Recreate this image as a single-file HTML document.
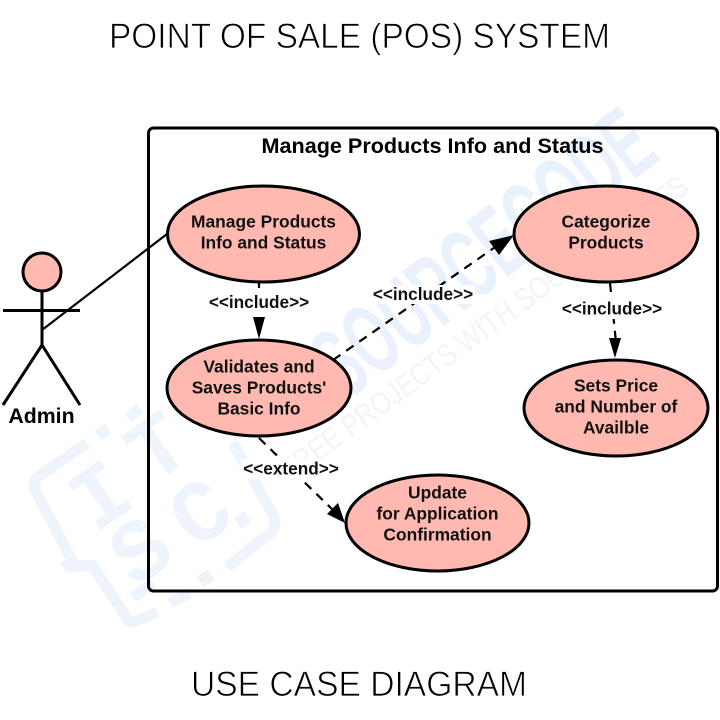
<!DOCTYPE html>
<html><head><meta charset="utf-8"><style>
html,body{margin:0;padding:0;background:#fff}
svg{display:block}
text{font-family:"Liberation Sans",sans-serif}
.n{font-weight:700;font-size:17.4px;text-anchor:middle;fill:#111}
.l{font-weight:700;font-size:17.2px;text-anchor:middle;fill:#111}
.t{font-size:35px;fill:#000;stroke:#fff;stroke-width:.8px}
.e{fill:#ffb9b1;stroke:#000;stroke-width:3}
.d{stroke:#000;stroke-width:2.2;fill:none;stroke-dasharray:9 7}
.w{font-family:"Liberation Mono",monospace;font-weight:700;font-size:88px;fill:#edf4fc;text-anchor:middle}
</style></head><body>
<svg width="720" height="720" viewBox="0 0 720 720" xmlns="http://www.w3.org/2000/svg">
<rect width="720" height="720" fill="#fff"/>
<!-- watermark logo -->
<g fill="none" stroke="#edf4fc" stroke-width="11" stroke-linejoin="round" stroke-linecap="butt">
<path d="M87 443L40 475Q30 482 36 492L73 562L63 568M68 567L92 565L127 618Q131 625 138 620L157 612"/>
<path d="M227 567L268 535Q279 527 273 515L233 443"/>
<path d="M128 418L140 408M133 597L153 583M170 603L190 593"/>
</g>
<g fill="#edf4fc">
<rect x="97" y="426" width="12" height="12" transform="rotate(-35 103 432)"/>
<rect x="236" y="514" width="13" height="13" transform="rotate(-35 242 520)"/>
<rect x="199" y="572" width="13" height="13" transform="rotate(-35 205 578)"/>
</g>
<text class="w" transform="translate(100 495) rotate(-35)" y="29">I</text>
<text class="w" transform="translate(157 447) rotate(-35)" y="29">T</text>
<text class="w" transform="translate(140 550) rotate(-35)" y="29">S</text>
<text class="w" transform="translate(200 512) rotate(-35)" y="29">C</text>
<text transform="translate(345 402) rotate(-37.5)" font-size="100" font-weight="700" fill="#e9f2fc" textLength="400" lengthAdjust="spacingAndGlyphs">SOURCECODE</text>
<text transform="translate(290 482) rotate(-36)" font-size="31" fill="#f0f4fa" textLength="495" lengthAdjust="spacingAndGlyphs">FREE PROJECTS WITH SOURCE CODES</text>

<!-- titles -->
<text class="t" x="109" y="48" textLength="501" lengthAdjust="spacingAndGlyphs">POINT OF SALE (POS) SYSTEM</text>
<text class="t" x="191" y="696" textLength="336" lengthAdjust="spacingAndGlyphs">USE CASE DIAGRAM</text>

<!-- boundary -->
<rect x="148.5" y="128" width="569" height="463" rx="5" fill="none" stroke="#000" stroke-width="3"/>
<text x="432.5" y="153" font-size="21.5" font-weight="700" text-anchor="middle" fill="#000" textLength="342" lengthAdjust="spacingAndGlyphs">Manage Products Info and Status</text>

<!-- actor -->
<g stroke="#000" stroke-width="3" fill="none">
<circle cx="42" cy="272" r="19" fill="#ffb9b1"/>
<path d="M42 291V345M3 310.500H80M42 345L3 405M42 345L80 405"/>
</g>
<path d="M42 330L167 234" stroke="#000" stroke-width="2.200" fill="none"/>
<text x="41.500" y="423" font-size="21.300" font-weight="700" text-anchor="middle" fill="#000">Admin</text>

<!-- connectors -->
<path d="M259 283V288" stroke="#000" stroke-width="2.200"/>
<polygon points="253,317 265,317 259,339" fill="#000"/>
<path class="d" d="M333 360L501 243"/>
<polygon points="514,235 499,255 489,241" fill="#000"/>
<path class="d" d="M610 283L616 342"/>
<polygon points="609,338 621,338 615,358" fill="#000"/>
<path class="d" d="M259 438L335 512"/>
<polygon points="345,523 327,514 338,503" fill="#000"/>

<!-- label masks + labels -->
<rect x="206" y="292" width="106" height="20" fill="#fff"/>
<rect x="371" y="285" width="104" height="19" fill="#fff"/>
<rect x="559" y="299" width="106" height="20" fill="#fff"/>
<rect x="241" y="459" width="100" height="20" fill="#fff"/>
<text class="l" x="259" y="308">&lt;&lt;include&gt;&gt;</text>
<text class="l" x="423" y="300">&lt;&lt;include&gt;&gt;</text>
<text class="l" x="612" y="314.500">&lt;&lt;include&gt;&gt;</text>
<text class="l" x="291" y="474.500">&lt;&lt;extend&gt;&gt;</text>

<!-- use cases -->
<ellipse class="e" cx="263.500" cy="234" rx="96" ry="48"/>
<text class="n" x="263.500" y="227.500">Manage Products</text>
<text class="n" x="263.500" y="248.500">Info and Status</text>

<ellipse class="e" cx="259" cy="388" rx="92" ry="48"/>
<text class="n" x="259" y="372.500">Validates and</text>
<text class="n" x="259" y="393.500">Saves Products'</text>
<text class="n" x="259" y="414.500">Basic Info</text>

<ellipse class="e" cx="606" cy="234" rx="92" ry="48"/>
<text class="n" x="606" y="227.500">Categorize</text>
<text class="n" x="606" y="248.500">Products</text>

<ellipse class="e" cx="616" cy="408" rx="92" ry="48"/>
<text class="n" x="616" y="391.500">Sets Price</text>
<text class="n" x="616" y="412.500">and Number of</text>
<text class="n" x="616" y="433.500">Availble</text>

<ellipse class="e" cx="437.500" cy="523" rx="91.500" ry="48"/>
<text class="n" x="437.500" y="498.500">Update</text>
<text class="n" x="437.500" y="519.500">for Application</text>
<text class="n" x="437.500" y="540.500">Confirmation</text>
</svg>
</body></html>
